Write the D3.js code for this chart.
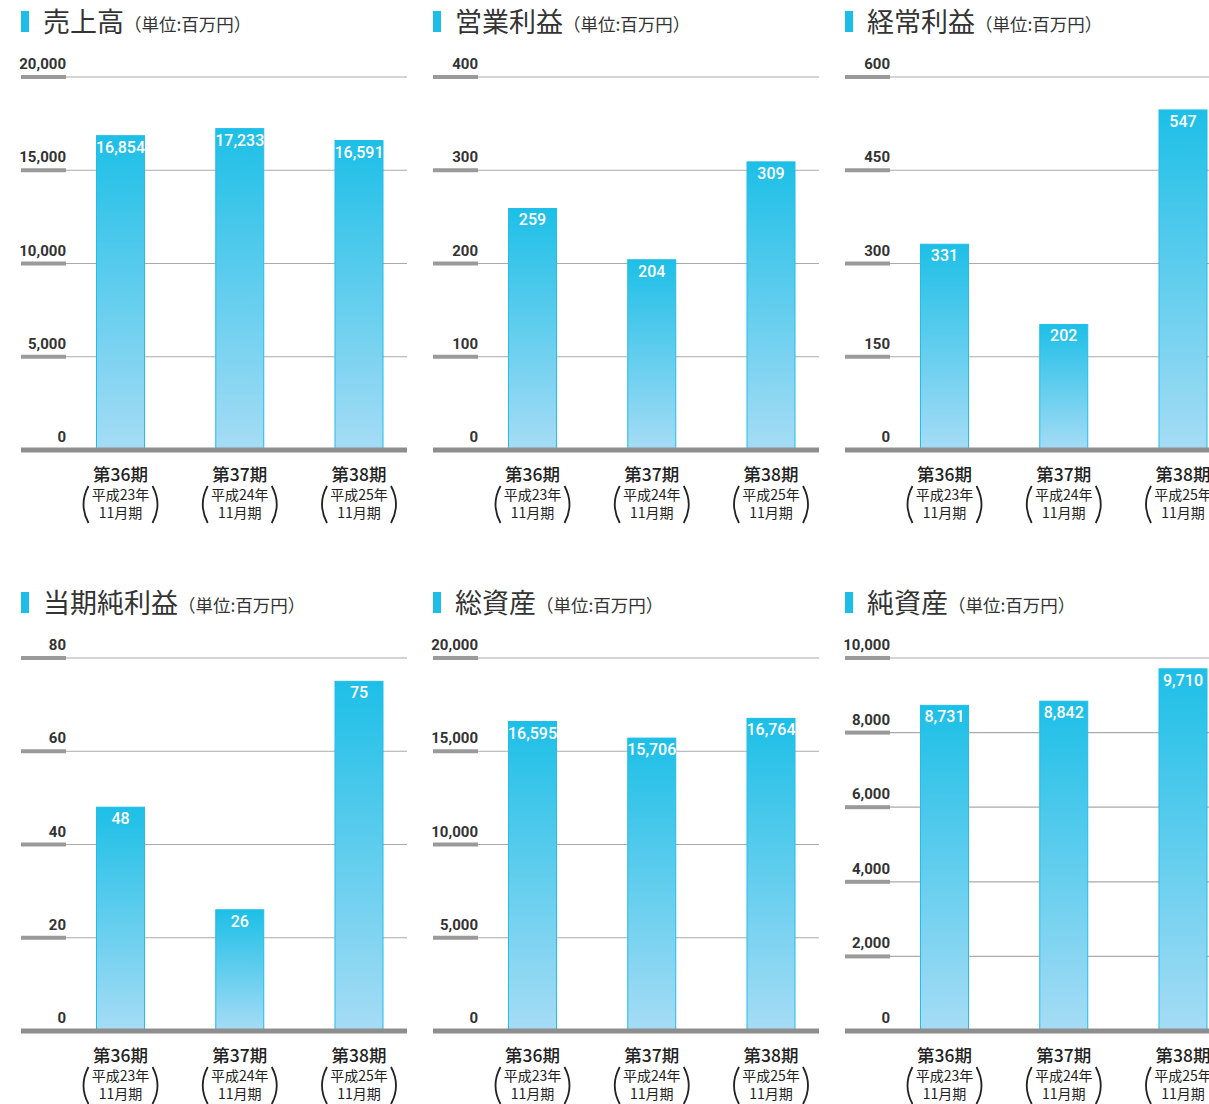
<!DOCTYPE html>
<html><head><meta charset="utf-8">
<script src="https://cdn.jsdelivr.net/npm/d3@7"></script>
<style>
html,body{margin:0;padding:0;background:#fff;}
svg{display:block;}
</style></head>
<body>
<svg id="chart" width="1209" height="1104"></svg>
<script>
// ---- data ----
const periods = ["第36期", "第37期", "第38期"];
const eraLabels = ["平成23年", "平成24年", "平成25年"];
const monthLabels = ["11月期", "11月期", "11月期"];

const titles = ["売上高", "営業利益", "経常利益", "当期純利益", "総資産", "純資産"];
const unitLabel = "（単位:百万円）";

const salesValues = [16854, 17233, 16591];
const operatingValues = [259, 204, 309];
const ordinaryValues = [331, 202, 547];
const netIncomeValues = [48, 26, 75];
const totalAssetsValues = [16595, 15706, 16764];
const netAssetsValues = [8731, 8842, 9710];

const salesTicks = [0, 5000, 10000, 15000, 20000];
const operatingTicks = [0, 100, 200, 300, 400];
const ordinaryTicks = [0, 150, 300, 450, 600];
const netIncomeTicks = [0, 20, 40, 60, 80];
const totalAssetsTicks = [0, 5000, 10000, 15000, 20000];
const netAssetsTicks = [0, 2000, 4000, 6000, 8000, 10000];

const panels = [
  {title: titles[0], values: salesValues, ticks: salesTicks},
  {title: titles[1], values: operatingValues, ticks: operatingTicks},
  {title: titles[2], values: ordinaryValues, ticks: ordinaryTicks},
  {title: titles[3], values: netIncomeValues, ticks: netIncomeTicks},
  {title: titles[4], values: totalAssetsValues, ticks: totalAssetsTicks},
  {title: titles[5], values: netAssetsValues, ticks: netAssetsTicks}
];

// ---- layout ----
const svg = d3.select("#chart");
const defs = svg.append("defs");
const grad = defs.append("linearGradient").attr("id", "barGrad")
  .attr("gradientUnits", "objectBoundingBox")
  .attr("x1", 0).attr("y1", 0).attr("x2", 0).attr("y2", 1);
grad.append("stop").attr("offset", "0%").attr("stop-color", "#1dbfe7");
grad.append("stop").attr("offset", "100%").attr("stop-color", "#a6dcf5");

const numFont = "'Liberation Sans Narrow','Roboto','Liberation Sans',sans-serif";
const jpFont = "'Noto Sans CJK JP','Noto Sans',sans-serif";

const panelW = 386, colStep = 412, rowStep = 581;
const plotTop = 77, plotBottom = 450;
const tickSegW = 45;
const barW = 49;

panels.forEach((p, i) => {
  const col = i % 3, row = Math.floor(i / 3);
  const g = svg.append("g").attr("transform", `translate(${21 + col * colStep},${row * rowStep})`);

  // title
  g.append("rect").attr("x", 0).attr("y", 11).attr("width", 8).attr("height", 21).attr("fill", "#1cbde8");
  const t = g.append("text").attr("x", 22).attr("y", 32)
    .attr("font-family", jpFont).attr("fill", "#333");
  t.append("tspan").attr("font-size", 27).attr("font-weight", 400).text(p.title);
  t.append("tspan").attr("font-size", 17.5).attr("dx", 0).attr("dy", -1).text(unitLabel);

  const maxV = p.ticks[p.ticks.length - 1];
  const y = d3.scaleLinear().domain([0, maxV]).range([plotBottom, plotTop]);
  const x = d3.scalePoint().domain(periods).range([99.5, 338]);

  // grid lines
  const grid = g.append("g");
  p.ticks.filter(v => v > 0).forEach(v => {
    grid.append("line").attr("x1", tickSegW).attr("x2", panelW)
      .attr("y1", y(v)).attr("y2", y(v)).attr("stroke", "#aaaaaa").attr("stroke-width", 1.2);
    grid.append("rect").attr("x", 0).attr("y", y(v) - 2).attr("width", tickSegW).attr("height", 4)
      .attr("fill", "#9a9a9a");
  });

  // tick labels
  g.append("g").selectAll("text").data(p.ticks).join("text")
    .attr("x", tickSegW).attr("y", v => y(v) - 8)
    .attr("text-anchor", "end")
    .attr("font-family", numFont).attr("font-size", 15).attr("font-weight", 700)
    .attr("fill", "#333")
    .text(d3.format(","));

  // bars
  g.append("g").selectAll("rect").data(p.values).join("rect")
    .attr("x", (d, j) => x(periods[j]) - barW / 2 + 0.5)
    .attr("y", d => y(d))
    .attr("width", barW - 1)
    .attr("height", d => plotBottom - y(d))
    .attr("fill", "url(#barGrad)")
    .attr("stroke", "#22bde8").attr("stroke-width", 1);

  // value labels
  g.append("g").selectAll("text").data(p.values).join("text")
    .attr("x", (d, j) => x(periods[j]))
    .attr("y", d => y(d) + 17)
    .attr("text-anchor", "middle")
    .attr("font-family", numFont).attr("font-size", 16).attr("font-weight", 500)
    .attr("fill", "#fff")
    .text(d3.format(","));

  // baseline
  g.append("rect").attr("x", 0).attr("y", plotBottom - 2.5).attr("width", panelW).attr("height", 5)
    .attr("fill", "#8e8e8e");

  // x labels
  const xl = g.append("g").selectAll("g").data(periods).join("g")
    .attr("transform", d => `translate(${x(d)},0)`);
  xl.append("text").attr("x", 0).attr("y", 481).attr("text-anchor", "middle")
    .attr("font-family", jpFont).attr("fill", "#222")
    .attr("font-size", 17.5).attr("font-weight", 500)
    .text(d => d);
  xl.append("text").attr("x", 0).attr("y", 500).attr("text-anchor", "middle")
    .attr("font-family", jpFont).attr("fill", "#222").attr("font-size", 14)
    .text((d, j) => eraLabels[j]);
  xl.append("text").attr("x", 0).attr("y", 518).attr("text-anchor", "middle")
    .attr("font-family", jpFont).attr("fill", "#222").attr("font-size", 14)
    .text((d, j) => monthLabels[j]);
  // parentheses
  xl.append("path").attr("d", "M-32,486 Q-42,504.5 -32,523").attr("fill", "none")
    .attr("stroke", "#222").attr("stroke-width", 1.8);
  xl.append("path").attr("d", "M32,486 Q42,504.5 32,523").attr("fill", "none")
    .attr("stroke", "#222").attr("stroke-width", 1.8);
});
</script>
</body></html>
